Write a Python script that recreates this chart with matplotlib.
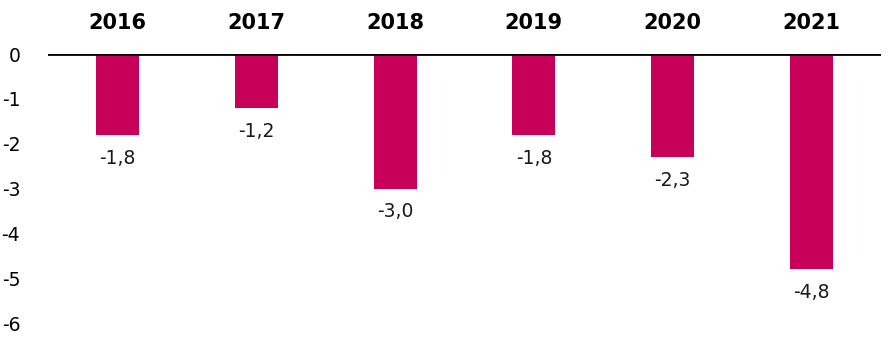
import matplotlib

matplotlib.use("Agg")
import matplotlib.pyplot as plt

years = ["2016", "2017", "2018", "2019", "2020", "2021"]
values = [-1.8, -1.2, -3.0, -1.8, -2.3, -4.8]
yticks = [0, -1, -2, -3, -4, -5, -6]

BAR_COLOR = "#C7005A"

plt.rcParams["font.family"] = ["DejaVu Sans"]

fig = plt.figure(figsize=(8.92, 3.5), dpi=100)
ax = fig.add_axes([0.0538, 0.0771, 0.9339, 0.7686])

x = list(range(len(years)))
ax.bar(x, values, width=0.31, color=BAR_COLOR, zorder=2)

for xi, v in zip(x, values):
    ax.annotate(
        f"{v:.1f}".replace(".", ","),
        xy=(xi, v),
        xytext=(0, -10),
        textcoords="offset points",
        ha="center",
        va="top",
        fontsize=13.5,
        color="#1a1a1a",
    )

ax.axhline(0, color="black", linewidth=2.0, zorder=3)

ax.set_xlim(-0.5, len(years) - 0.5)
ax.set_ylim(-6, 0)

ax.xaxis.tick_top()
ax.set_xticks(x)
ax.set_xticklabels(years, fontsize=15, fontweight="bold")
ax.tick_params(axis="x", length=0, pad=15)

ax.set_yticks(yticks)
ax.set_yticklabels([str(t) for t in yticks], fontsize=13.5)
ax.tick_params(axis="y", length=0, pad=20)

for side in ["top", "bottom", "left", "right"]:
    ax.spines[side].set_visible(False)

fig.savefig("out.png", dpi=100)
